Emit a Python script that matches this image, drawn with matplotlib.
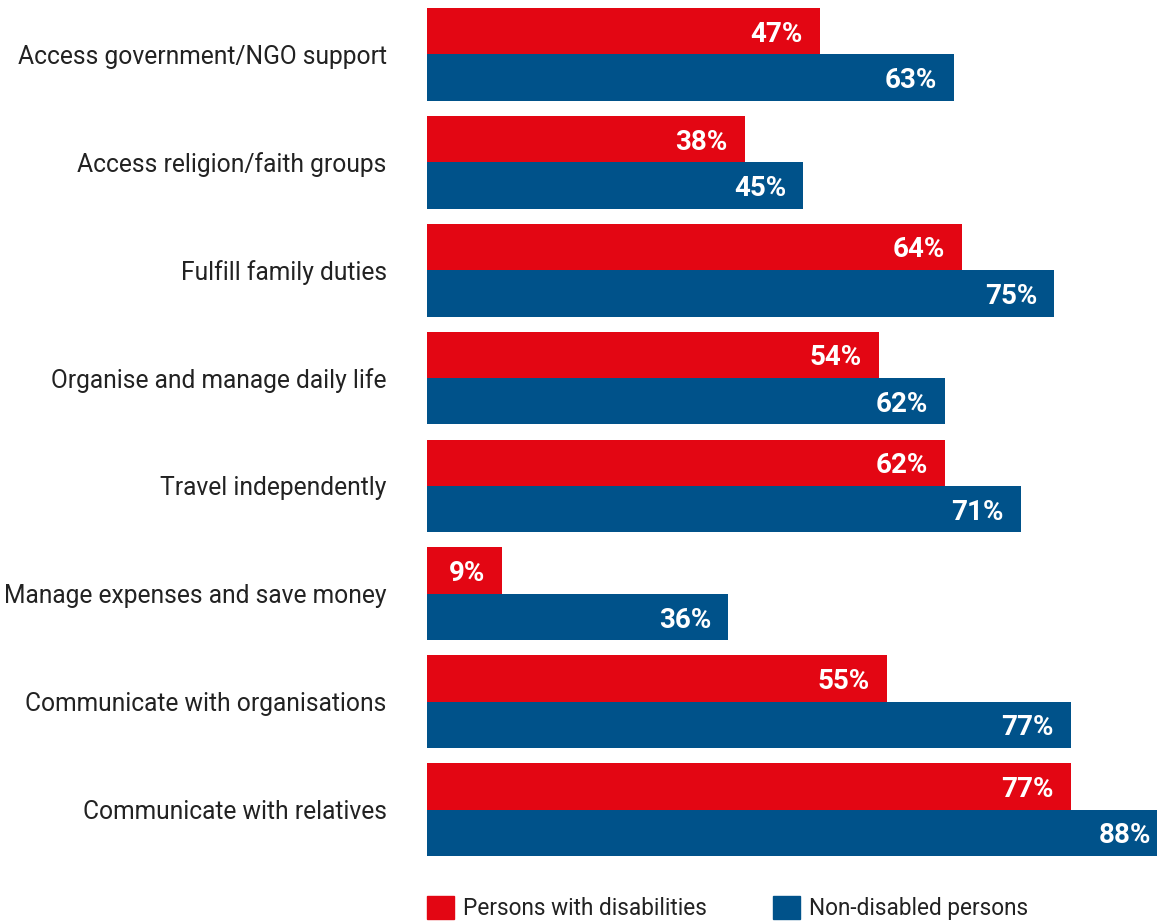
import numpy as np
import matplotlib.pyplot as plt
from matplotlib.patches import Patch

plt.rcParams['font.family'] = ['Roboto', 'DejaVu Sans']

categories = [
    "Access government/NGO support",
    "Access religion/faith groups",
    "Fulfill family duties",
    "Organise and manage daily life",
    "Travel independently",
    "Manage expenses and save money",
    "Communicate with organisations",
    "Communicate with relatives",
]
disabled = [47, 38, 64, 54, 62, 9, 55, 77]
non_disabled = [63, 45, 75, 62, 71, 36, 77, 88]
series_names = ["Persons with disabilities", "Non-disabled persons"]

RED = "#E30613"
BLUE = "#00528A"
TEXT = "#222222"
FS = 17.7
LEG_FS = 16.3

fig = plt.figure(figsize=(11.57, 9.23), dpi=100)
ax = fig.add_axes([427 / 1157, 67 / 923, 730 / 1157, 848 / 923])

y = np.arange(len(categories))
h = 0.43
red_bars = ax.barh(y - h / 2, disabled, height=h, color=RED)
blue_bars = ax.barh(y + h / 2, non_disabled, height=h, color=BLUE)

# longest bar runs slightly past the right edge
ax.set_xlim(0, 87.3)
ax.set_ylim(len(categories) - 1 + h, -h)

# white value labels just inside the end of each bar
for bars, vals in ((red_bars, disabled), (blue_bars, non_disabled)):
    for bar, v in zip(bars, vals):
        ax.annotate(f"{v}%", (min(v, 87.3), bar.get_y() + bar.get_height() / 2),
                    xytext=(-17 if v < 87.3 else -6, -3),
                    textcoords="offset pixels",
                    ha="right", va="center", color="white",
                    fontsize=20, fontweight="bold", annotation_clip=False)

ax.set_yticks(y)
ax.set_yticklabels(categories, fontsize=FS, color=TEXT)
ax.tick_params(axis="y", length=0, pad=29)
ax.set_xticks([])
for s in ax.spines.values():
    s.set_visible(False)

# one legend per entry so each sits at its own x
for color, name, x0 in ((RED, series_names[0], 427), (BLUE, series_names[1], 773)):
    fig.legend([Patch(color=color)], [name], loc="upper left",
               bbox_to_anchor=(x0 / 1157, 27 / 923), frameon=False,
               fontsize=LEG_FS, handlelength=1.19, handleheight=1.2,
               handletextpad=0.4, borderpad=0, borderaxespad=0,
               labelcolor=TEXT)

fig.savefig("out.png", dpi=100)
